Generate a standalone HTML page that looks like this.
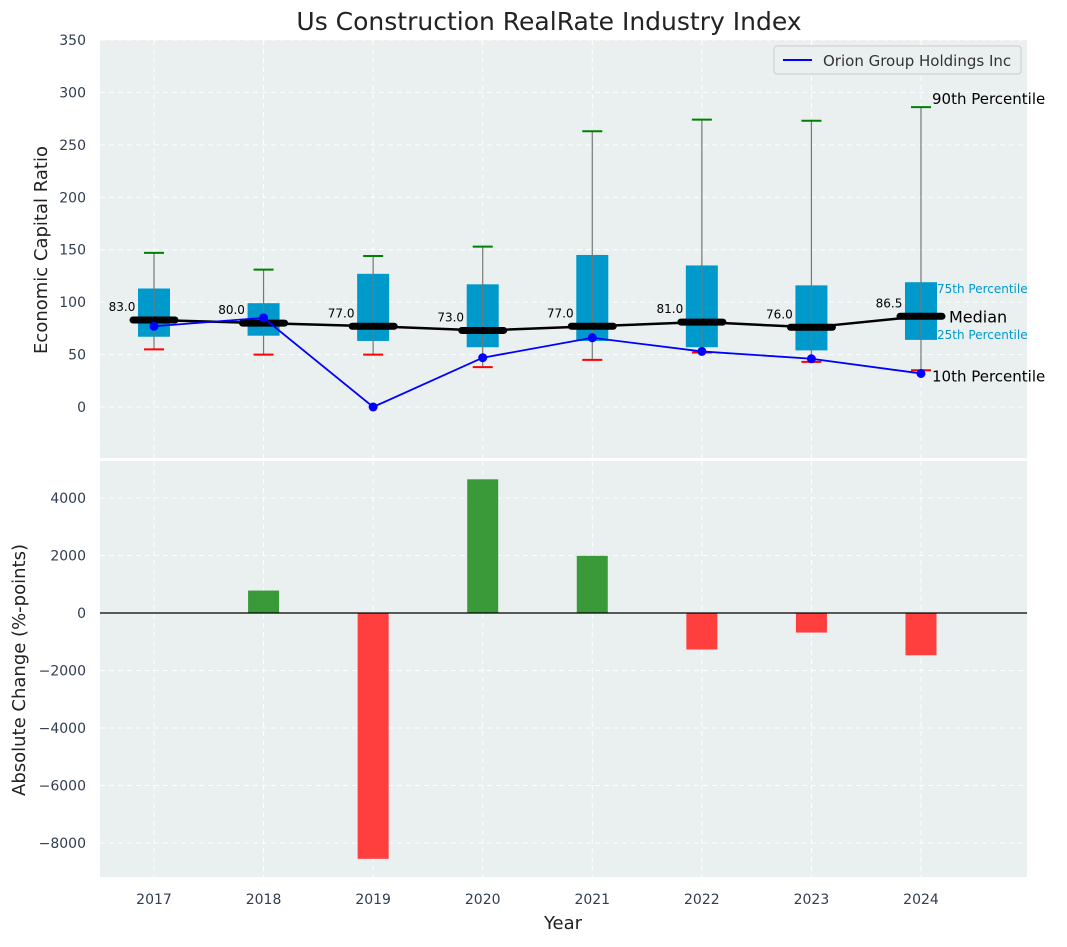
<!DOCTYPE html>
<html><head><meta charset="utf-8"><style>
body{margin:0;background:#fff;font-family:"Liberation Sans","DejaVu Sans",sans-serif}
svg text{font-family:"DejaVu Sans","Liberation Sans",sans-serif}
</style></head><body>
<svg id="chart" width="1067" height="942" xmlns="http://www.w3.org/2000/svg">
<rect width="1067" height="942" fill="#fff"/>
<text x="549" y="30" font-size="25" text-anchor="middle" fill="#222">Us Construction RealRate Industry Index</text>
<rect x="100" y="40" width="927" height="418" fill="#eaeff0"/>
<rect x="100" y="461" width="927" height="416" fill="#eaeff0"/>
<g id="gtop"></g><g id="gbot"></g>
<text x="47" y="250" font-size="18" text-anchor="middle" fill="#222" transform="rotate(-90 47 250)">Economic Capital Ratio</text>
<text x="25" y="670" font-size="18" text-anchor="middle" fill="#222" transform="rotate(-90 25 670)">Absolute Change (%-points)</text>
<text x="563" y="929" font-size="18" text-anchor="middle" fill="#222">Year</text>
<g>
<rect x="774" y="46" width="247" height="28" rx="3" fill="#eaeff0" stroke="#ccc"/>
<line x1="783" y1="60" x2="812" y2="60" stroke="#0000ff" stroke-width="2"/>
<text x="823" y="66" font-size="15" fill="#333">Orion Group Holdings Inc</text>
</g>
</svg>
<script>
const years=["2017","2018","2019","2020","2021","2022","2023","2024"];
const p10=[55,50,50,38,45,52,43,35];
const q25=[67,68,63,57,63,57,54,64];
const median=[83,80,77,73,77,81,76,86.5];
const q75=[113,99,127,117,145,135,116,119];
const p90=[147,131,144,153,263,274,273,286];
const orion=[77,85,0,47,66,53,46,32];
const change=[0,780,-8550,4650,1990,-1270,-680,-1470];
const topTicks=[0,50,100,150,200,250,300,350];
const botTicks=[-8000,-6000,-4000,-2000,0,2000,4000];
const NS="http://www.w3.org/2000/svg";
const xs=i=>154+i*109.57;
const yT=v=>407-v*1.0486;
const yB=v=>613-v*0.02875;
function mk(p,tag,a,txt){const e=document.createElementNS(NS,tag);for(const k in a)e.setAttribute(k,a[k]);if(txt!=null)e.textContent=txt;p.appendChild(e);return e;}
const gTop=document.getElementById('gtop'),gBot=document.getElementById('gbot');
topTicks.forEach(t=>{const y=yT(t);
 const g=mk(gTop,'line',{x1:100,x2:1027,y1:y,y2:y,stroke:'#fff','stroke-dasharray':'5,4','stroke-width':1});
 
 const l=mk(gTop,'text',{x:86,y:y+5,'font-size':14,'text-anchor':'end',fill:'#2f3e50'},t);
 });
botTicks.forEach(t=>{const y=yB(t);
 const g=mk(gBot,'line',{x1:100,x2:1027,y1:y,y2:y,stroke:'#fff','stroke-dasharray':'5,4','stroke-width':1});
 
 const l=mk(gBot,'text',{x:86,y:y+5,'font-size':14,'text-anchor':'end',fill:'#2f3e50'},String(t).replace('-','\u2212'));
 });
years.forEach((yr,i)=>{const x=xs(i);
 [gTop,gBot].forEach((p,j)=>{const g=mk(p,'line',{x1:x,x2:x,y1:j?461:40,y2:j?877:458,stroke:'#fff','stroke-dasharray':'5,4'});
 });
 const l=mk(gBot,'text',{x:x,y:904,'font-size':14,'text-anchor':'middle',fill:'#2f3e50'},yr);
 });
years.forEach((yr,i)=>{const x=xs(i);
 const b=mk(gTop,'rect',{x:x-16,y:yT(q75[i]),width:32,height:yT(q25[i])-yT(q75[i]),fill:'#0099cc'});
 
 const w=mk(gTop,'line',{x1:x,x2:x,y1:yT(p10[i]),y2:yT(p90[i]),stroke:'#777','stroke-width':1.2});
 
 const c1=mk(gTop,'line',{x1:x-10,x2:x+10,y1:yT(p90[i]),y2:yT(p90[i]),stroke:'green','stroke-width':2});
 
 const c2=mk(gTop,'line',{x1:x-10,x2:x+10,y1:yT(p10[i]),y2:yT(p10[i]),stroke:'red','stroke-width':2});
 });
const mp=mk(gTop,'polyline',{points:median.map((v,i)=>xs(i)+','+yT(v)).join(' '),fill:'none',stroke:'#000','stroke-width':2.5});

median.forEach((v,i)=>{const x=xs(i);
 const m=mk(gTop,'line',{x1:x-21,x2:x+21,y1:yT(v),y2:yT(v),stroke:'#000','stroke-width':7,'stroke-linecap':'round'});
 
 const t=mk(gTop,'text',{x:x-32,y:yT(v)-9,'font-size':12,'text-anchor':'middle',fill:'#000'},v.toFixed(1));
 });
const op=mk(gTop,'polyline',{points:orion.map((v,i)=>xs(i)+','+yT(v)).join(' '),fill:'none',stroke:'#0000ff','stroke-width':1.8});

orion.forEach((v,i)=>{const c=mk(gTop,'circle',{cx:xs(i),cy:yT(v),r:4.5,fill:'#0000ff'});
 });
const L=7,lx=xs(L);
[[p90[L],'90th Percentile',15,'#000',11,-3],[median[L],'Median',16,'#000',28,6],[q75[L],'75th Percentile',12,'#0099cc',16,11],[q25[L],'25th Percentile',12,'#0099cc',16,-1],[p10[L],'10th Percentile',15,'#000',11,11]].forEach(a=>{
 const t=mk(gTop,'text',{x:lx+a[4],y:yT(a[0])+a[5],'font-size':a[2],fill:a[3]},a[1]);
 });
change.forEach((v,i)=>{const x=xs(i);const y0=yB(0),y1=yB(v);
 const r=mk(gBot,'rect',{x:x-15.5,y:Math.min(y0,y1),width:31,height:Math.abs(y1-y0),fill:v>=0?'#3a9a3a':'#ff3e3e'});
 });
const z=mk(gBot,'line',{x1:100,x2:1027,y1:yB(0),y2:yB(0),stroke:'#000','stroke-width':1.2});

</script>
</body></html>
